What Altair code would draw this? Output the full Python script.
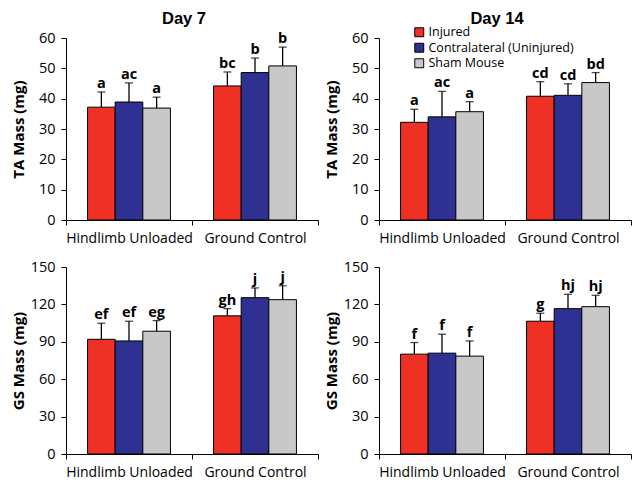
import altair as alt
import pandas as pd

groups = ["Hindlimb Unloaded", "Ground Control"]
series = ["Injured", "Contralateral (Uninjured)", "Sham Mouse"]
colors = ["#EE3124", "#2E3192", "#C8C8C8"]

# order: HU-Injured, HU-Contra, HU-Sham, GC-Injured, GC-Contra, GC-Sham
d7_ta_mean = [37.2, 38.9, 36.9, 44.2, 48.6, 50.8]
d7_ta_sd = [5.0, 6.3, 3.6, 4.6, 4.8, 6.2]
d7_ta_lbl = ["a", "ac", "a", "bc", "b", "b"]

d14_ta_mean = [32.2, 34.0, 35.7, 40.8, 41.1, 45.3]
d14_ta_sd = [4.3, 8.4, 3.3, 4.8, 3.8, 3.3]
d14_ta_lbl = ["a", "ac", "a", "cd", "cd", "bd"]

d7_gs_mean = [92.0, 90.7, 98.5, 110.8, 125.4, 123.8]
d7_gs_sd = [12.9, 15.8, 8.5, 5.8, 7.8, 11.2]
d7_gs_lbl = ["ef", "ef", "eg", "gh", "j", "j"]

d14_gs_mean = [80.1, 80.9, 78.5, 106.5, 116.6, 118.2]
d14_gs_sd = [9.3, 15.2, 12.2, 6.4, 11.5, 9.1]
d14_gs_lbl = ["f", "f", "f", "g", "hj", "hj"]

FONT = "Open Sans"
TITLE_FONT = "Liberation Sans"


def make_df(mean, sd, lbl):
    rows = []
    i = 0
    for g in groups:
        for s in series:
            rows.append({"group": g, "series": s, "mean": mean[i],
                         "top": mean[i] + sd[i], "lbl": lbl[i]})
            i += 1
    return pd.DataFrame(rows)


LEGEND = alt.Legend(title=None, orient="none", legendX=347, legendY=-12,
                    symbolType="square", symbolSize=80,
                    symbolStrokeColor="black", symbolStrokeWidth=1,
                    symbolOpacity=1, labelLimit=300,
                    labelFont=FONT, labelFontSize=12.5,
                    labelColor="black", rowPadding=1.5, labelOffset=3)


def panel(df, ymax, step, ytitle, height, title=None, dx=0):
    xaxis = alt.Axis(labelAngle=0, tickBand="extent", tickSize=5,
                     tickColor="black", domainColor="black",
                     labelColor="black", labelFontSize=14,
                     labelFont=FONT, labelPadding=6, grid=False)
    x = alt.X("group:N", sort=groups, title=None,
              scale=alt.Scale(paddingInner=0, paddingOuter=0), axis=xaxis)
    xo = alt.XOffset("series:N", sort=series,
                     scale=alt.Scale(paddingOuter=0.78, paddingInner=0))
    yaxis = alt.Axis(values=list(range(0, ymax + 1, step)), grid=False,
                     labelOverlap=False,
                     tickSize=5, tickColor="black", domainColor="black",
                     labelColor="black", labelFontSize=14.5,
                     labelFont=FONT, labelPadding=6,
                     titleFont=FONT, titleFontSize=15,
                     titleFontWeight="bold", titleColor="black",
                     titlePadding=3, minExtent=37, maxExtent=37)
    yscale = alt.Scale(domain=[0, ymax], nice=False)
    color = alt.Color("series:N", sort=series,
                      scale=alt.Scale(domain=series, range=colors),
                      legend=LEGEND)
    base = alt.Chart(df)
    bars = base.mark_bar(stroke="black", strokeWidth=1, opacity=1).encode(
        x=x, xOffset=xo,
        y=alt.Y("mean:Q", title=ytitle, scale=yscale, axis=yaxis),
        color=color)
    rule = base.mark_rule(color="black", strokeWidth=1.3).encode(
        x=x, xOffset=xo,
        y=alt.Y("mean:Q", title=ytitle, scale=yscale, axis=yaxis),
        y2="top:Q")
    cap = base.mark_tick(color="black", thickness=1.3, size=8).encode(
        x=x, xOffset=xo,
        y=alt.Y("top:Q", title=ytitle, scale=yscale, axis=yaxis))
    txt = base.mark_text(fontWeight="bold", fontSize=14.5, font=FONT,
                         baseline="bottom", dy=-1, color="black").encode(
        x=x, xOffset=xo,
        y=alt.Y("top:Q", title=ytitle, scale=yscale, axis=yaxis),
        text="lbl:N")
    ch = alt.layer(bars, rule, cap, txt).properties(width=252, height=height)
    if title:
        ch = ch.properties(title=alt.TitleParams(
            title, font=TITLE_FONT, fontSize=16.5, fontWeight="bold",
            color="black", anchor="middle", offset=3, dx=dx))
    return ch


tl = panel(make_df(d7_ta_mean, d7_ta_sd, d7_ta_lbl), 60, 10, "TA Mass (mg)", 182, "Day 7", dx=-8)
tr = panel(make_df(d14_ta_mean, d14_ta_sd, d14_ta_lbl), 60, 10, "TA Mass (mg)", 182, "Day 14", dx=-8)
bl = panel(make_df(d7_gs_mean, d7_gs_sd, d7_gs_lbl), 150, 30, "GS Mass (mg)", 187)
br = panel(make_df(d14_gs_mean, d14_gs_sd, d14_gs_lbl), 150, 30, "GS Mass (mg)", 187)

chart = alt.concat(tl, tr, bl, br, columns=2,
                   spacing=alt.RowColnumber(row=14, column=5)).properties(
    padding={"left": 3, "top": 2, "right": 0, "bottom": 0}
).configure_view(stroke=None)

chart.save("out.html", embed_options={"renderer": "svg", "actions": False})
